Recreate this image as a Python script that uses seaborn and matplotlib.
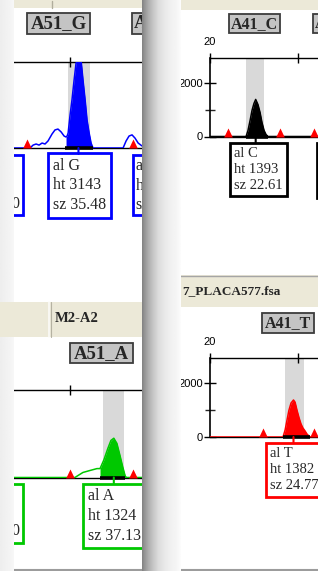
import numpy as np
import pandas as pd
import matplotlib
matplotlib.use("Agg")
import matplotlib.pyplot as plt
import seaborn as sns
from matplotlib.patches import Rectangle
from matplotlib.transforms import Bbox, TransformedBbox

# ---------------- data ----------------
marker_names = ["A51_G", "A51_A", "A41_C", "A41_T"]
allele_calls = ["G", "A", "C", "T"]
peak_heights = [3143, 1324, 1393, 1382]
peak_sizes = [35.48, 37.13, 22.61, 24.77]
trace_colors = ["#0000ff", "#00c800", "#000000", "#ff0000"]

# blue trace (A51_G panel)
g_bp = [31.74, 32.71, 32.89, 33.06, 33.23, 33.40, 33.57, 33.74, 33.97, 34.14, 34.31,
        34.49, 34.66, 34.77, 34.83, 34.89, 35.00, 35.11, 35.23, 35.34, 35.48, 35.63,
        35.74, 35.86, 35.97, 36.09, 36.20, 36.31, 38.03, 38.20, 38.37, 38.54, 38.71,
        38.89, 39.11]
g_rfu = [0, 0, 100, 137, 100, 170, 137, 240, 480, 620, 650,
         550, 410, 377, 410, 515, 1130, 1650, 2330, 2900, 3143, 3000,
         2330, 1650, 960, 515, 170, 0, 0, 240, 410, 450, 340,
         170, 70]
# green trace (A51_A panel)
a_bp = [32.23, 35.24, 35.39, 35.63, 35.97, 36.31, 36.46, 36.65, 36.84, 36.99,
        37.13, 37.28, 37.43, 37.57, 37.69, 37.77, 38.50]
a_rfu = [0, 0, 67, 170, 236, 300, 300, 600, 980, 1250,
         1324, 1150, 740, 340, 30, 0, 0]
# black trace (A41_C panel)
c_bp = [20.00, 22.06, 22.17, 22.29, 22.40, 22.51, 22.61, 22.74, 22.86, 22.97,
        23.09, 23.20, 23.31, 26.17]
c_rfu = [0, 0, 225, 600, 980, 1240, 1393, 1200, 900, 525,
         225, 75, 0, 0]
# red trace (A41_T panel)
t_bp = [20.00, 24.17, 24.29, 24.40, 24.51, 24.63, 24.77, 24.86, 24.97, 25.09,
        25.20, 25.31, 25.43, 25.54, 25.71, 26.17]
t_rfu = [0, 0, 260, 635, 1000, 1270, 1382, 1300, 1000, 710,
         485, 335, 225, 110, 0, 0]

bins = [(34.89, 36.14), (36.60, 37.62), (22.06, 23.09), (24.29, 25.37)]
peak_windows = [(34.71, 36.31), (36.46, 37.69), (22.06, 23.31), (24.17, 25.71)]
bin_markers = [[32.54, 38.60], [35.00, 38.06], [21.03, 24.00, 25.94], [23.03, 25.94]]
x_ranges = [(31.74, 39.11), (32.23, 38.50), (20.0, 26.17), (20.0, 26.17)]
size_ticks = [[35], [35], [20, 25], [20, 25]]
size_labels = [[""], [""], ["20", ""], ["20", ""]]
rfu_ticks = [0, 2000]
rfu_minor = [1000]
rfu_max = 2950
header_texts = ["M2-A2", "7_PLACA577.fsa"]

# ---------------- style ----------------
sns.set_style("white")
plt.rcParams["font.family"] = ["Liberation Serif", "DejaVu Serif"]

W, H = 318, 571
fig = plt.figure(figsize=(W / 100, H / 100), dpi=100)
fig.patch.set_facecolor("white")


def px_axes(x0, y0, x1, y1, z=1):
    return fig.add_axes([x0 / W, (H - y1) / H, (x1 - x0) / W, (y1 - y0) / H], zorder=z)


BEIGE = "#ece9d8"

# background / decorations in pixel space
bg = px_axes(0, 0, W, H, z=0)
bg.set_xlim(0, W)
bg.set_ylim(H, 0)
bg.axis("off")
bg.add_patch(Rectangle((13, 0), 129, 8, fc=BEIGE, ec="none"))
bg.plot([52, 52], [1, 8], color="#b0ad9c", lw=1)
bg.add_patch(Rectangle((180, 0), 138, 10, fc=BEIGE, ec="none"))
bg.add_patch(Rectangle((0, 302), 142, 35, fc=BEIGE, ec="none"))
bg.plot([49, 49], [302, 337], color="#fbfbf8", lw=1.2)
bg.plot([50.5, 50.5], [302, 337], color="#b5b2a2", lw=0.8)
bg.add_patch(Rectangle((180, 275), 138, 32, fc=BEIGE, ec="none"))
bg.plot([180, 318], [275.5, 275.5], color="#a5a5a5", lw=1)
bg.text(55, 318, header_texts[0], fontsize=10.5, fontweight="bold", ha="left", va="center")
bg.text(182, 291.5, header_texts[1], fontsize=9.5, fontweight="bold", ha="left", va="center")
for seg in [(13, 142), (180, 318)]:
    bg.plot(seg, [569.5, 569.5], color="#9c9c9c", lw=1.5)

# marker title boxes
title_boxes = [(27, 13, 63, 21, 13.5), (70, 343, 63, 20, 13.5),
               (229, 14, 51, 19, 11.5), (262, 313, 52, 20, 11.5)]
for name, (bx, by, bw, bh, fs) in zip(marker_names, title_boxes):
    bg.add_patch(Rectangle((bx, by), bw, bh, fc="#c4c4c4", ec="#3c3c3c", lw=1.3))
    bg.text(bx + bw / 2, by + bh / 2 + 0.5, name, fontsize=fs, fontweight="bold",
            ha="center", va="center")
# partially visible neighbour title boxes
bg.add_patch(Rectangle((132, 13), 30, 21, fc="#c4c4c4", ec="#3c3c3c", lw=1.3))
bg.text(134, 24, "A", fontsize=13.5, fontweight="bold", ha="left", va="center")
bg.add_patch(Rectangle((313, 14), 30, 19, fc="#c4c4c4", ec="#3c3c3c", lw=1.3))
bg.text(314.5, 24, "A", fontsize=11.5, fontweight="bold", ha="left", va="center")

# partially visible neighbour label boxes
clipbox = TransformedBbox(Bbox([[14.5, 0], [142, H]]), bg.transData)
bg.add_patch(Rectangle((-20, 155), 42.5, 60, fc="white", ec="#0000ff", lw=2))
t = bg.text(11.5, 204, "0", fontsize=11.5, ha="left", va="center")
t.set_clip_box(clipbox)
bg.add_patch(Rectangle((132.5, 155), 40, 60, fc="white", ec="#0000ff", lw=2))
bg.text(135.5, 158, "al\nht\nsz", fontsize=11.5, ha="left", va="top", linespacing=1.3)
bg.add_patch(Rectangle((-20, 484), 42.5, 59, fc="white", ec="#00c800", lw=2))
t = bg.text(11.5, 531, "0", fontsize=11.5, ha="left", va="center")
t.set_clip_box(clipbox)
bg.add_patch(Rectangle((317, 143), 20, 55, fc="white", ec="black", lw=2))

# ---------------- electropherogram panels ----------------
tri_marker = [(-1, 0), (1, 0), (0, 2.1), (-1, 0)]
panel_boxes = [(13, 62, 142, 148), (13, 390, 142, 477.5),
               (210, 58, 318, 136.5), (210, 358, 318, 437)]
traces = [(g_bp, g_rfu), (a_bp, a_rfu), (c_bp, c_rfu), (t_bp, t_rfu)]
label_offsets = [(-25.6, -9.8, 11.5), (-26.1, -10.8, 11.5),
                 (-21.3, -10.4, 10.5), (-23.1, -10.4, 10.5)]

for i in range(4):
    ax = px_axes(*panel_boxes[i], z=1)
    ax.set_facecolor("none")
    color = trace_colors[i]
    bp, rfu = traces[i]
    ax.set_xlim(*x_ranges[i])
    ax.set_ylim(0, rfu_max)
    ax.axvspan(*bins[i], color="#d9d9d9", lw=0, zorder=0)

    df = pd.DataFrame({"bp": bp, "rfu": rfu})
    sns.lineplot(data=df, x="bp", y="rfu", ax=ax, color=color, lw=1.1,
                 sort=False, estimator=None, zorder=3)
    x = np.array(bp)
    y = np.array(rfu)
    m = (x >= peak_windows[i][0]) & (x <= peak_windows[i][1])
    ax.fill_between(x[m], y[m], color=color, lw=0, zorder=3)
    ax.plot(peak_windows[i], [0, 0], color="black", lw=2.6,
            solid_capstyle="butt", zorder=4, clip_on=False)
    ax.plot(bin_markers[i], [0] * len(bin_markers[i]), ls="none", marker=tri_marker,
            ms=13, mew=0, color="red", zorder=5, clip_on=False)

    ax.set_xlabel("")
    ax.set_ylabel("")
    for s in ax.spines.values():
        s.set_color("black")
        s.set_linewidth(1.0)
    ax.spines["right"].set_visible(False)
    ax.xaxis.tick_top()
    ax.set_xticks(size_ticks[i])
    ax.set_xticklabels(size_labels[i])
    ax.tick_params(axis="x", which="major", top=True, bottom=False, labeltop=True,
                   labelbottom=False, direction="inout", length=7, width=1,
                   labelsize=8, pad=4.5, colors="black")
    if i < 2:
        ax.spines["left"].set_visible(False)
        ax.set_yticks([])
    else:
        ax.spines["left"].set_linewidth(1.2)
        ax.set_yticks(rfu_ticks)
        ax.set_yticks(rfu_minor, minor=True)
        ax.tick_params(axis="y", which="major", left=True, direction="inout",
                       length=9, width=1, labelsize=8, pad=0.5, colors="black")
        ax.tick_params(axis="y", which="minor", left=True, direction="inout",
                       length=7, width=1)
    for lbl in ax.get_xticklabels() + ax.get_yticklabels():
        lbl.set_fontfamily("Liberation Sans")

    dx, dy, fs = label_offsets[i]
    ax.annotate(f"al {allele_calls[i]}\nht {peak_heights[i]}\nsz {peak_sizes[i]:.2f}",
                xy=(peak_sizes[i], 0), xytext=(dx, dy), textcoords="offset pixels",
                ha="left", va="top", fontsize=fs, linespacing=1.3,
                bbox=dict(boxstyle="square,pad=0.3", fc="white", ec=color, lw=2),
                annotation_clip=False, zorder=6)
    ax.annotate("", xy=(peak_sizes[i], 0), xytext=(0, -6), textcoords="offset pixels",
                arrowprops=dict(arrowstyle="-", color=color, lw=1.5,
                                shrinkA=0, shrinkB=0),
                annotation_clip=False, zorder=6)

# ---------------- overlay: screenshot shadow & margin ----------------
ov = px_axes(0, 0, W, H, z=10)
ov.set_facecolor("none")
ov.set_xlim(0, W)
ov.set_ylim(H, 0)
ov.axis("off")
cols = np.arange(142, 181)
stops_x = [142, 144, 148, 153, 158, 164, 170, 176, 180]
stops_v = [0.52, 0.58, 0.68, 0.78, 0.86, 0.91, 0.94, 0.96, 0.985]
shade = np.interp(cols, stops_x, stops_v)
img = np.tile(shade, (2, 1))
ov.imshow(img, cmap="gray", vmin=0, vmax=1, extent=(142, 181, H, 0),
          aspect="auto", interpolation="bilinear", zorder=1)
marg = np.tile(np.interp(np.arange(0, 14), [0, 13], [0.93, 0.965]), (2, 1))
for (y0, y1) in [(0, 302), (337, H)]:
    ov.imshow(marg, cmap="gray", vmin=0, vmax=1, extent=(0, 13.5, y1, y0),
              aspect="auto", interpolation="bilinear", zorder=1)
ov.set_xlim(0, W)
ov.set_ylim(H, 0)

fig.savefig("out.png", dpi=100, facecolor="white")
